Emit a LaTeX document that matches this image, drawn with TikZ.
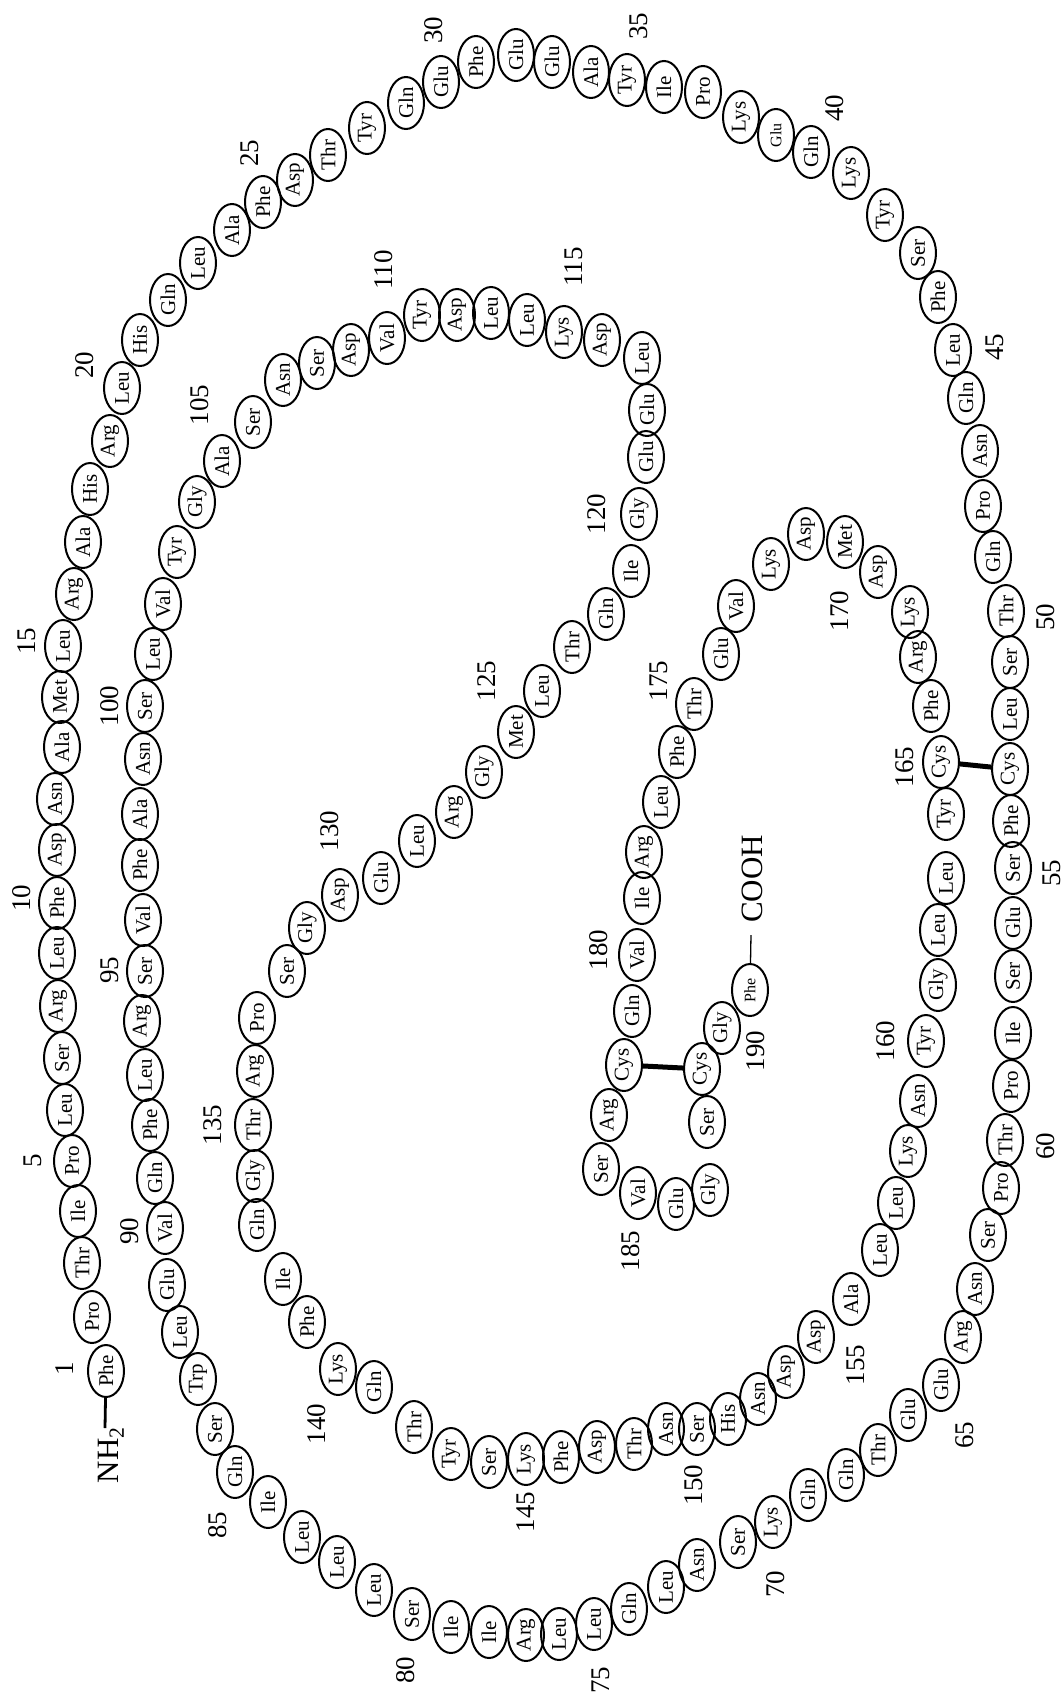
\documentclass[tikz,border=0pt]{standalone}
\usepackage{fontspec}
\setmainfont{Liberation Serif}
\usetikzlibrary{shapes.geometric}
\tikzset{
  aa/.style={draw, line width=2pt, ellipse, rotate=90, minimum width=52pt, minimum height=36pt, inner sep=0pt, font=\fontsize{21}{21}\selectfont},
  aasmall/.style={aa, font=\fontsize{16}{16}\selectfont},
  num/.style={rotate=90, inner sep=0pt, font=\fontsize{27}{27}\selectfont},
  term/.style={rotate=90, inner sep=0pt, anchor=base, font=\fontsize{31}{31}\selectfont},
  ssbond/.style={line width=5pt},
}
\begin{document}
\begin{tikzpicture}[x=1pt,y=-1pt]
\useasboundingbox[fill=white] (0,0) rectangle (1062,1695);
\foreach \i/\x/\y/\t in {
1/106/1371/Phe, 2/92/1317/Pro, 3/82/1263/Thr, 4/78/1211/Ile, 5/72/1161/Pro,
6/65/1110/Leu, 7/62/1058/Ser, 8/58/1006/Arg, 9/57/953/Leu, 10/57/903/Phe,
11/57/850/Asp, 12/55/799/Asn, 13/62/747/Ala, 14/60/697/Met, 15/63/646/Leu,
16/74/594/Arg, 17/83/542/Ala, 18/90/489/His, 19/110/441/Arg, 20/122/388/Leu,
21/140/340/His, 22/168/300/Gln, 23/198/263/Leu, 24/232/230/Ala, 25/263/202/Phe,
26/295/180/Asp, 27/328/155/Thr, 28/367/128/Tyr, 29/406/103/Gln, 30/441/82/Glu,
31/476/62/Phe, 32/516/55/Glu, 33/552/62/Glu, 34/591/72/Ala, 35/627/80/Tyr,
36/664/87/Ile, 37/703/92/Pro, 38/741/117/Lys, 40/811/152/Gln,
41/851/173/Lys, 42/885/215/Tyr, 43/918/253/Ser, 44/938/297/Phe, 45/953/350/Leu,
46/966/398/Gln, 47/980/451/Asn, 48/983/506/Pro, 49/993/557/Gln, 50/1006/611/Thr,
51/1010/662/Ser, 52/1010/714/Leu, 53/1010/769/Cys, 54/1011/821/Phe, 55/1013/868/Ser,
56/1013/923/Glu, 57/1013/976/Ser, 58/1013/1033/Ile, 59/1011/1086/Pro, 60/1005/1140/Thr,
61/1001/1188/Pro, 62/988/1235/Ser, 63/975/1289/Asn, 64/963/1337/Arg, 65/941/1385/Glu,
66/908/1415/Glu, 67/878/1450/Thr, 68/846/1475/Gln, 69/808/1495/Gln, 70/773/1522/Lys,
71/738/1542/Ser, 72/697/1565/Asn, 73/666/1587/Leu, 74/629/1609/Gln, 75/594/1624/Leu,
76/559/1634/Leu, 77/526/1635/Arg, 78/489/1632/Ile, 79/451/1627/Ile, 80/412/1614/Ser,
81/374/1590/Leu, 82/337/1562/Leu, 83/302/1537/Leu, 84/268/1502/Ile, 85/235/1472/Gln,
86/215/1429/Ser, 87/198/1379/Trp, 88/180/1332/Leu, 89/167/1285/Glu, 90/165/1228/Val,
91/155/1178/Gln, 92/150/1125/Phe, 93/145/1075/Leu, 94/142/1021/Arg, 95/145/971/Ser,
96/143/920/Val, 97/140/865/Phe, 98/140/814/Ala, 99/143/759/Asn, 100/145/706/Ser,
101/153/654/Leu, 102/163/604/Val, 103/177/552/Tyr, 104/197/502/Gly, 105/222/461/Ala,
106/253/422/Ser, 107/283/380/Asn, 108/317/363/Ser, 109/351/350/Asp, 110/387/338/Val,
111/422/315/Tyr, 112/457/315/Asp, 113/491/313/Leu, 114/527/320/Leu, 115/564/332/Lys,
116/602/340/Asp, 117/642/358/Leu, 118/647/410/Glu, 119/646/457/Glu, 120/639/514/Gly,
121/631/571/Ile, 122/606/614/Gln, 123/572/647/Thr, 124/542/691/Leu, 125/516/732/Met,
126/484/772/Gly, 127/454/812/Arg, 128/417/841/Leu, 129/381/878/Glu, 130/340/895/Asp,
131/307/928/Gly, 132/287/971/Ser, 133/257/1018/Pro, 134/255/1071/Arg, 135/253/1125/Thr,
136/255/1176/Gly, 137/257/1225/Gln, 138/283/1279/Ile, 139/307/1322/Phe, 140/338/1369/Lys,
141/374/1387/Gln, 142/414/1427/Thr, 143/451/1454/Tyr, 144/489/1462/Ser, 145/526/1459/Lys,
146/561/1457/Phe, 147/597/1447/Asp, 148/634/1444/Thr, 149/666/1429/Asn, 150/697/1429/Ser,
151/728/1419/His, 152/758/1399/Asn, 153/786/1372/Asp, 154/816/1337/Asp, 155/851/1299/Ala,
156/880/1250/Leu, 157/896/1203/Leu, 158/908/1151/Lys, 159/918/1101/Asn, 160/926/1041/Tyr,
161/938/985/Gly, 162/938/930/Leu, 163/946/878/Leu, 164/946/814/Tyr, 165/941/762/Cys,
166/931/706/Phe, 167/918/657/Arg, 168/910/612/Lys, 169/878/572/Asp, 170/845/542/Met,
171/806/534/Asp, 172/771/564/Lys, 173/736/606/Val, 174/721/654/Glu, 175/694/704/Thr,
176/677/752/Phe, 177/661/802/Leu, 178/644/852/Arg, 179/642/898/Ile, 180/637/955/Val,
181/632/1011/Gln, 182/624/1065/Cys, 183/609/1115/Arg, 184/601/1169/Ser, 185/638/1193/Val,
186/676/1204/Glu, 187/710/1190/Gly, 188/707/1122/Ser, 189/702/1069/Cys, 190/722/1028/Gly}
  \node[aa] (r\i) at (\x,\y) {\t};
\node[aasmall] (r39) at (776,135) {Glu};
\node[aasmall] (r191) at (750,990) {Phe};
% disulfide bridges
\draw[ssbond] (r165) -- (r53);
\draw[ssbond] (r182) -- (r189);
% termini
\node[term] (nh) at (118,1455) {NH\textsubscript{2}};
\coordinate (nhc) at (105,1428);
\draw[line width=2.8pt] (r1) -- (nhc);
\node[term] (cooh) at (762,879) {COOH};
\coordinate (cb) at (751,935);
\draw[line width=1.3pt] (r191) -- (cb);
% residue numbers
\foreach \n/\x/\y in {
1/65/1369, 5/33/1161, 10/22/898, 15/27/641, 20/85/365, 25/250/153, 30/434/30,
35/639/26, 40/835/108, 45/995/347, 50/1046/617, 55/1052/873, 60/1046/1146,
65/965/1435, 70/776/1584, 75/601/1680, 80/406/1670, 85/218/1525, 90/130/1231,
95/110/970, 100/110/706, 105/200/405, 110/384/270, 115/574/267, 120/597/514,
125/487/681, 130/330/831, 135/213/1125, 140/317/1424, 145/526/1512, 150/694/1485,
155/856/1365, 160/886/1041, 165/905/767, 170/840/611, 175/659/681, 180/599/950,
185/631/1251, 190/756/1051}
  \node[num] (n\n) at (\x,\y) {\n};
\end{tikzpicture}
\end{document}
